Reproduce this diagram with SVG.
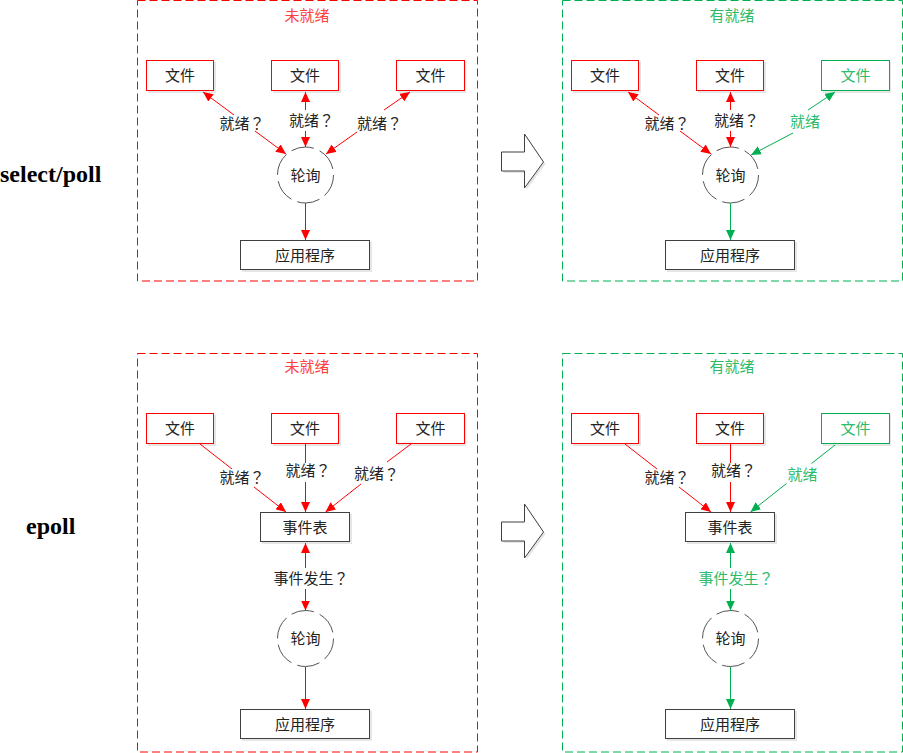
<svg xmlns="http://www.w3.org/2000/svg" width="903" height="753" viewBox="0 0 903 753">
<defs>
<marker id="ar" markerUnits="userSpaceOnUse" markerWidth="11" markerHeight="9" refX="10" refY="4.5" orient="auto-start-reverse"><path d="M0,0 L10,4.5 L0,9 z" fill="#ff0000"/></marker>
<marker id="ag" markerUnits="userSpaceOnUse" markerWidth="11" markerHeight="9" refX="10" refY="4.5" orient="auto-start-reverse"><path d="M0,0 L10,4.5 L0,9 z" fill="#00b050"/></marker>
</defs>
<style>
text{font-family:"Noto Sans CJK SC",sans-serif;font-size:15px;fill:#222;dominant-baseline:central}
.q{font-family:"Noto Sans CJK TC","Noto Sans CJK SC",sans-serif}
.c{text-anchor:middle}
.big{font-family:"Liberation Serif",serif;font-size:24px;font-weight:bold;fill:#000;dominant-baseline:auto}
.pr{fill:none;stroke:#ff0000;stroke-dasharray:8 4}
.pg{fill:none;stroke:#00b050;stroke-dasharray:8 4}
.tr{fill:#ff4040}
.tg{fill:#2dbb6a}
.fr{fill:#fff;stroke:#ff0000}
.fg{fill:#fff;stroke:#00b050}
.bk{fill:#fff;stroke:#404040}
.sh{fill:#e6e6e6}
.ci{fill:#fff;stroke:#555;stroke-dasharray:23 6.3}
.lr{fill:none;stroke:#ff0000}
.lg{fill:none;stroke:#00b050}
.dd{marker-start:url(#ar);marker-end:url(#ar)}
.de{marker-end:url(#ar)}
.gd{marker-start:url(#ag);marker-end:url(#ag)}
.ge{marker-end:url(#ag)}
.blk{fill:#fff;stroke:#404040}
</style>

<text class="big" x="0" y="182">select/poll</text>
<text class="big" x="26" y="534">epoll</text>

<g id="bigarrow1"><polygon class="sh" points="503.5,154 526.5,154 526.5,136 545.5,164 526.5,190 526.5,173 503.5,173"/><polygon class="blk" points="501.5,152 524.5,152 524.5,134 543.5,162 524.5,188 524.5,171 501.5,171"/></g>
<g id="bigarrow2"><polygon class="sh" points="503.5,524 526.5,524 526.5,506 545.5,534 526.5,560 526.5,543 503.5,543"/><polygon class="blk" points="501.5,522 524.5,522 524.5,504 543.5,532 524.5,558 524.5,541 501.5,541"/></g>

<!-- top-left panel -->
<g id="panel-sp-not-ready">
<rect class="pr" x="137.5" y="0.5" width="340" height="280.5"/>
<text class="c tr" x="307" y="14">未就绪</text>
</g>
<g id="sp1-file1"><rect class="sh" x="148" y="62" width="68" height="31"/><rect class="fr" x="146.5" y="60.5" width="67" height="30"/><text class="c" x="180" y="74.5">文件</text></g>
<g id="sp1-file2"><rect class="sh" x="273" y="62" width="68" height="31"/><rect class="fr" x="271.5" y="60.5" width="67" height="30"/><text class="c" x="305" y="74.5">文件</text></g>
<g id="sp1-file3"><rect class="sh" x="398" y="62" width="68" height="31"/><rect class="fr" x="396.5" y="60.5" width="68" height="30"/><text class="c" x="430.5" y="74.5">文件</text></g>
<g id="sp1-poll"><circle class="ci" cx="305.5" cy="175" r="28"/><text class="c" x="305.5" y="174">轮询</text></g>
<g id="sp1-app"><rect class="sh" x="242" y="242" width="130" height="30"/><rect class="bk" x="240.5" y="240.5" width="129" height="29"/><text class="c" x="305" y="254">应用程序</text></g>
<g id="sp1-connectors">
<path class="lr dd" d="M203,92 L234,115 M255,131 L286,154"/>
<path class="lr dd" d="M305.5,92 L305.5,110 M305.5,131 L305.5,147"/>
<path class="lr dd" d="M410,92 L384,110 M357,132 L326,154"/>
<path class="lr de" d="M305.5,203 L305.5,240"/>
<text x="219.5" y="122">就绪<tspan class="q">？</tspan></text>
<text x="289" y="119">就绪<tspan class="q">？</tspan></text>
<text x="357" y="122">就绪<tspan class="q">？</tspan></text>
</g>

<!-- top-right panel -->
<g id="panel-sp-ready">
<rect class="pg" x="562.5" y="0.5" width="340" height="280.5"/>
<text class="c tg" x="732" y="14">有就绪</text>
</g>
<g id="sp2-file1"><rect class="sh" x="573" y="62" width="68" height="31"/><rect class="fr" x="571.5" y="60.5" width="67" height="30"/><text class="c" x="605" y="74.5">文件</text></g>
<g id="sp2-file2"><rect class="sh" x="698" y="62" width="68" height="31"/><rect class="fr" x="696.5" y="60.5" width="67" height="30"/><text class="c" x="730" y="74.5">文件</text></g>
<g id="sp2-file3"><rect class="sh" x="823" y="62" width="68" height="31"/><rect class="fg" x="821.5" y="60.5" width="68" height="30"/><text class="c tg" x="855.5" y="74.5">文件</text></g>
<g id="sp2-poll"><circle class="ci" cx="730.5" cy="175" r="28"/><text class="c" x="730.5" y="174">轮询</text></g>
<g id="sp2-app"><rect class="sh" x="667" y="242" width="130" height="30"/><rect class="bk" x="665.5" y="240.5" width="129" height="29"/><text class="c" x="730" y="254">应用程序</text></g>
<g id="sp2-connectors">
<path class="lr dd" d="M628,92 L659,115 M680,131 L711,154"/>
<path class="lr dd" d="M730.5,92 L730.5,110 M730.5,131 L730.5,147"/>
<path class="lg gd" d="M835,92 L808,110 M793,133 L751,155"/>
<path class="lg ge" d="M730.5,203 L730.5,240"/>
<text x="644.5" y="122">就绪<tspan class="q">？</tspan></text>
<text x="714" y="119">就绪<tspan class="q">？</tspan></text>
<text class="tg" x="790" y="120.5">就绪</text>
</g>

<!-- bottom-left panel -->
<g id="panel-ep-not-ready">
<rect class="pr" x="137.5" y="353.5" width="340" height="398.5"/>
<text class="c tr" x="307" y="365">未就绪</text>
</g>
<g id="ep1-file1"><rect class="sh" x="148" y="415" width="68" height="31"/><rect class="fr" x="146.5" y="413.5" width="67" height="30"/><text class="c" x="180" y="427.5">文件</text></g>
<g id="ep1-file2"><rect class="sh" x="273" y="415" width="68" height="31"/><rect class="fr" x="271.5" y="413.5" width="67" height="30"/><text class="c" x="305" y="427.5">文件</text></g>
<g id="ep1-file3"><rect class="sh" x="398" y="415" width="68" height="31"/><rect class="fr" x="396.5" y="413.5" width="68" height="30"/><text class="c" x="430.5" y="427.5">文件</text></g>
<g id="ep1-table"><rect class="sh" x="262" y="514" width="90" height="30"/><rect class="bk" x="260.5" y="512.5" width="89" height="29"/><text class="c" x="305" y="526">事件表</text></g>
<g id="ep1-poll"><circle class="ci" cx="305.5" cy="638.5" r="28"/><text class="c" x="305.5" y="637.5">轮询</text></g>
<g id="ep1-app"><rect class="sh" x="242" y="711" width="130" height="30"/><rect class="bk" x="240.5" y="709.5" width="129" height="29"/><text class="c" x="305" y="723">应用程序</text></g>
<g id="ep1-connectors">
<path class="lr de" d="M200,444 L232,469 M254,487 L286,512"/>
<path class="lr de" d="M305.5,444 L305.5,463 M305.5,482 L305.5,512"/>
<path class="lr de" d="M411,444 L387,462 M361,484 L325.5,512"/>
<path class="lr dd" d="M305.5,543 L305.5,568 M305.5,589 L305.5,610.5"/>
<path class="lr de" d="M305.5,667 L305.5,709"/>
<text x="219.5" y="476">就绪<tspan class="q">？</tspan></text>
<text x="285.5" y="469">就绪<tspan class="q">？</tspan></text>
<text x="354" y="472.5">就绪<tspan class="q">？</tspan></text>
<text x="273.5" y="577">事件发生<tspan class="q">？</tspan></text>
</g>

<!-- bottom-right panel -->
<g id="panel-ep-ready">
<rect class="pg" x="562.5" y="353.5" width="340" height="398.5"/>
<text class="c tg" x="732" y="365">有就绪</text>
</g>
<g id="ep2-file1"><rect class="sh" x="573" y="415" width="68" height="31"/><rect class="fr" x="571.5" y="413.5" width="67" height="30"/><text class="c" x="605" y="427.5">文件</text></g>
<g id="ep2-file2"><rect class="sh" x="698" y="415" width="68" height="31"/><rect class="fr" x="696.5" y="413.5" width="67" height="30"/><text class="c" x="730" y="427.5">文件</text></g>
<g id="ep2-file3"><rect class="sh" x="823" y="415" width="68" height="31"/><rect class="fg" x="821.5" y="413.5" width="68" height="30"/><text class="c tg" x="855.5" y="427.5">文件</text></g>
<g id="ep2-table"><rect class="sh" x="687" y="514" width="90" height="30"/><rect class="bk" x="685.5" y="512.5" width="89" height="29"/><text class="c" x="730" y="526">事件表</text></g>
<g id="ep2-poll"><circle class="ci" cx="730.5" cy="638.5" r="28"/><text class="c" x="730.5" y="637.5">轮询</text></g>
<g id="ep2-app"><rect class="sh" x="667" y="711" width="130" height="30"/><rect class="bk" x="665.5" y="709.5" width="129" height="29"/><text class="c" x="730" y="723">应用程序</text></g>
<g id="ep2-connectors">
<path class="lr de" d="M625,444 L657,469 M679,487 L711,512"/>
<path class="lr de" d="M730.5,444 L730.5,463 M730.5,482 L730.5,512"/>
<path class="lg ge" d="M835,445 L811.5,463.5 M786.5,483.5 L750.5,512"/>
<path class="lg gd" d="M730.5,543 L730.5,568 M730.5,589 L730.5,610.5"/>
<path class="lg ge" d="M730.5,667 L730.5,709"/>
<text x="644.5" y="476">就绪<tspan class="q">？</tspan></text>
<text x="711" y="469">就绪<tspan class="q">？</tspan></text>
<text class="tg" x="787.5" y="473">就绪</text>
<text class="tg" x="698.5" y="577">事件发生<tspan class="q">？</tspan></text>
</g>
</svg>
